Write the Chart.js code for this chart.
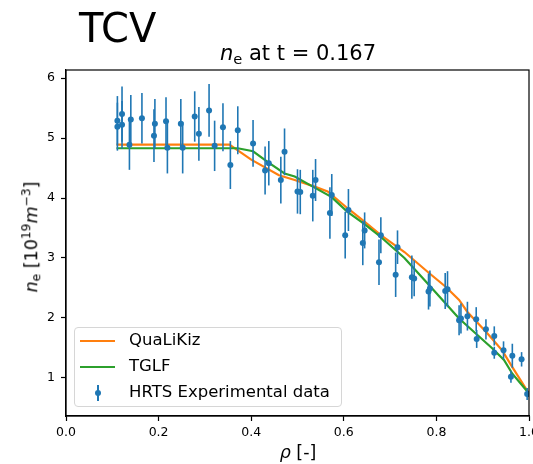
<!DOCTYPE html>
<html>
<head>
<meta charset="utf-8">
<script src="https://cdn.jsdelivr.net/npm/chart.js@4.4.0/dist/chart.umd.min.js"></script>
<style>
  body { margin:0; background:#fff; font-family:"DejaVu Sans", sans-serif; }
  #wrap { position:relative; width:533px; height:464px; overflow:hidden; }
  #c { position:absolute; left:0; top:0; }
  .txt { position:absolute; color:#000; white-space:nowrap; line-height:1; }
  .sub { font-size:70%; position:relative; top:0.25em; }
  .sup { font-size:70%; position:relative; top:-0.55em; }
  #legend { position:absolute; left:74px; top:327px; width:266px; height:78px;
            border:1px solid #d6d6d6; border-radius:4px; background:rgba(255,255,255,0.8); }
  .row { position:absolute; left:0; height:20px; width:100%; }
  .swatch { position:absolute; left:5px; width:35px; height:2px; top:9px; }
  .lab { position:absolute; left:54px; top:1px; font-size:16.5px; line-height:1; }
  .ebar { position:absolute; left:22px; width:2px; height:16px; top:2px; background:#1f77b4; }
  .edot { position:absolute; left:20px; top:7px; width:6px; height:6px; border-radius:50%; background:#1f77b4; }
</style>
</head>
<body>
<div id="wrap">
  <canvas id="c" width="533" height="464"></canvas>
  <div class="txt" style="left:79px; top:8px; font-size:40px;">TCV</div>
  <div class="txt" style="left:298px; top:43px; font-size:21px; transform:translateX(-50%);"><i>n</i><span class="sub">e</span> at t = 0.167</div>
  <div class="txt" style="left:298px; top:444px; font-size:17.5px; transform:translateX(-50%);"><i>ρ</i> [-]</div>
  <div class="txt" style="left:32px; top:237px; font-size:17.5px; transform:translate(-50%,-50%) rotate(-90deg);"><i>n</i><span class="sub">e</span> [10<span class="sup">19</span><i>m</i><span class="sup">−3</span>]</div>
  <div id="legend">
    <div class="row" style="top:3px;"><div class="swatch" style="background:#ff7f0e"></div><div class="lab">QuaLiKiz</div></div>
    <div class="row" style="top:29px;"><div class="swatch" style="background:#2ca02c"></div><div class="lab">TGLF</div></div>
    <div class="row" style="top:55px;"><div class="ebar"></div><div class="edot"></div><div class="lab">HRTS Experimental data</div></div>
  </div>
</div>
<script>
// --- data ---
const RHO_EXP = [0.111,0.111,0.121,0.121,0.140,0.137,0.164,0.190,0.192,0.216,0.219,0.248,0.252,0.278,0.287,0.309,0.321,0.339,0.355,0.371,0.404,0.430,0.438,0.464,0.472,0.500,0.506,0.533,0.539,0.570,0.574,0.603,0.610,0.641,0.645,0.676,0.680,0.712,0.716,0.747,0.752,0.783,0.786,0.819,0.824,0.849,0.853,0.867,0.886,0.887,0.907,0.925,0.925,0.945,0.961,0.964,0.984,0.996];
const NE_EXP = [5.29,5.19,5.40,5.22,5.31,4.89,5.33,5.04,5.24,5.28,4.84,5.24,4.84,5.36,5.07,5.46,4.87,5.18,4.55,5.13,4.91,4.46,4.58,4.30,4.77,4.11,4.10,4.04,4.30,3.75,4.05,3.38,3.80,3.25,3.46,2.93,3.38,2.72,3.18,2.68,2.66,2.44,2.49,2.45,2.48,1.96,1.99,2.03,1.98,1.65,1.81,1.70,1.42,1.46,1.02,1.37,1.31,0.73];
const NE_ERR = [0.41,0.40,0.46,0.40,0.41,0.42,0.42,0.44,0.41,0.40,0.43,0.41,0.43,0.42,0.45,0.44,0.42,0.40,0.40,0.40,0.39,0.40,0.37,0.39,0.39,0.37,0.37,0.43,0.35,0.43,0.35,0.39,0.35,0.37,0.30,0.38,0.30,0.37,0.28,0.36,0.30,0.30,0.30,0.30,0.30,0.25,0.25,0.24,0.20,0.15,0.17,0.16,0.10,0.15,0.10,0.20,0.12,0.10];

const RHO_QLK = [0.109,0.353,0.400,0.460,0.494,0.537,0.565,0.608,0.644,0.680,0.731,0.784,0.820,0.849,0.867,0.907,0.942,0.964,1.0];
const NE_QLK  = [4.89,4.89,4.64,4.38,4.30,4.19,4.11,3.83,3.61,3.38,3.10,2.75,2.52,2.30,2.10,1.77,1.46,1.18,0.74];

const RHO_TGLF = [0.109,0.371,0.404,0.436,0.472,0.494,0.533,0.573,0.608,0.644,0.680,0.731,0.784,0.820,0.849,0.885,0.921,0.946,0.964,1.0];
const NE_TGLF  = [4.83,4.83,4.78,4.60,4.41,4.36,4.19,4.02,3.77,3.57,3.35,3.00,2.55,2.24,1.99,1.74,1.49,1.30,1.07,0.74];

const X_TICKS = [0.0,0.2,0.4,0.6,0.8,1.0];
const Y_TICKS = [1,2,3,4,5,6];

const BLUE = '#1f77b4', ORANGE = '#ff7f0e', GREEN = '#2ca02c';

const toXY = (xs, ys) => xs.map((x,i) => ({x, y: ys[i]}));

// error bars drawn just before the scatter points, using the chart scales
const errorBars = {
  id: 'errorBars',
  beforeDatasetDraw(chart, args) {
    if (args.index !== 0) return;
    const {ctx, scales:{x, y}} = chart;
    ctx.save();
    ctx.strokeStyle = BLUE;
    ctx.lineWidth = 1.6;
    RHO_EXP.forEach((r,i) => {
      const px = x.getPixelForValue(r);
      ctx.beginPath();
      ctx.moveTo(px, y.getPixelForValue(NE_EXP[i] - NE_ERR[i]));
      ctx.lineTo(px, y.getPixelForValue(NE_EXP[i] + NE_ERR[i]));
      ctx.stroke();
    });
    ctx.restore();
  }
};

// box around the plot area (matplotlib spines)
const frame = {
  id: 'frame',
  afterDraw(chart) {
    const {ctx, chartArea:a} = chart;
    ctx.save();
    ctx.strokeStyle = '#000';
    ctx.lineWidth = 1.2;
    ctx.strokeRect(a.left, a.top, a.right - a.left, a.bottom - a.top);
    ctx.restore();
  }
};

new Chart(document.getElementById('c'), {
  type: 'scatter',
  data: {
    datasets: [
      {label:'HRTS Experimental data', data: toXY(RHO_EXP, NE_EXP), backgroundColor: BLUE, borderColor: BLUE,
       pointRadius: 3, borderWidth: 0, showLine: false},
      {type:'line', label:'TGLF', data: toXY(RHO_TGLF, NE_TGLF), borderColor: GREEN, borderWidth: 2.2,
       pointRadius: 0, fill: false, tension: 0},
      {type:'line', label:'QuaLiKiz', data: toXY(RHO_QLK, NE_QLK), borderColor: ORANGE, borderWidth: 2.2,
       pointRadius: 0, fill: false, tension: 0}
    ]
  },
  options: {
    responsive: false,
    animation: false,
    devicePixelRatio: 1,
    layout: { padding: {top: 70, right: 3, left: 0, bottom: 0} },
    plugins: { legend: {display: false}, tooltip: {enabled: false}, title: {display: false} },
    scales: {
      x: {
        type: 'linear', min: 0, max: 1,
        afterBuildTicks: s => { s.ticks = X_TICKS.map(v => ({value: v})); },
        afterFit: s => { s.height = 48; s.paddingLeft = 0; s.paddingRight = 0; },
        ticks: { color: '#000', padding: 4, maxRotation: 0, font: {family: 'DejaVu Sans', size: 12.5},
                 callback: v => v.toFixed(1) },
        grid: { display: true, drawOnChartArea: false, drawTicks: true, tickLength: 5, tickColor: '#000', tickWidth: 1.2 },
        border: { display: true, color: '#000', width: 1.2 }
      },
      y: {
        type: 'linear', min: 0.365, max: 6.135,
        afterBuildTicks: s => { s.ticks = Y_TICKS.map(v => ({value: v})); },
        afterFit: s => { s.width = 66; s.paddingTop = 0; s.paddingBottom = 0; },
        ticks: { color: '#000', padding: 6, font: {family: 'DejaVu Sans', size: 12.5},
                 callback: v => String(v) },
        grid: { display: true, drawOnChartArea: false, drawTicks: true, tickLength: 5, tickColor: '#000', tickWidth: 1.2 },
        border: { display: true, color: '#000', width: 1.2 }
      }
    }
  },
  plugins: [errorBars, frame]
});
</script>
</body>
</html>
